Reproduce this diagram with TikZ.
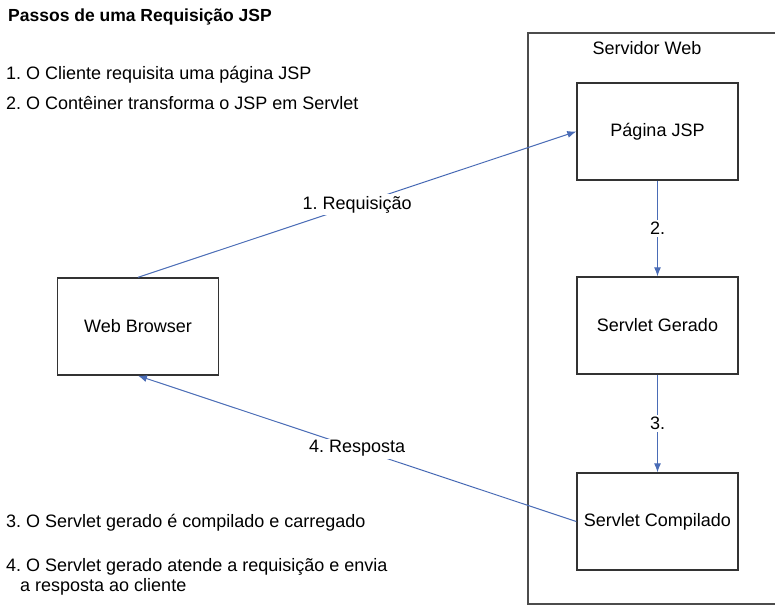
\documentclass[tikz,border=0pt]{standalone}
\usepackage{fontspec}
\setmainfont{Liberation Sans}
\usepackage{tikz}
\usetikzlibrary{positioning,arrows.meta}
\frenchspacing
\definecolor{arrowblue}{RGB}{74,108,182}
\tikzset{%
  every box/.style={
    rectangle,
    draw=black!80,
    line width=1.4pt,
    minimum width=161pt,
    minimum height=97pt
  },
  step text/.style={
    anchor=west,
    inner sep=0pt,
    align=left
  },
  arrow label/.style={
    fill=white,
    text=black,
    inner sep=2pt
  },
}

\begin{document}
\begin{tikzpicture}[> = {Latex[length=9pt,width=7pt]}, x=1pt, y=-1pt, font=\fontsize{18}{20}\selectfont]
\useasboundingbox (0,0) rectangle (775,605);
% servidor
\draw[black!70, line width=1.4pt] (775,33) -| (528,604) -- (775,604);
\node (server_label) at (647,48) {Servidor Web};
% caixas
\node[every box] (box_jsp) at (657.5,131.5) {Página JSP};
\node[every box] (box_gerado) at (657.5,325.5) {Servlet Gerado};
\node[every box] (box_compilado) at (657.5,521.5) {Servlet Compilado};
\node[every box] (box_browser) at (138,326.5) {Web Browser};
% textos
\node[step text, font=\fontsize{17.5}{20}\selectfont\bfseries] (title) at (8,17) {Passos de uma Requisição JSP};
\node[step text] (step_1) at (6,75) {1. O Cliente requisita uma página JSP};
\node[step text] (step_2) at (6,103) {2. O Contêiner transforma o JSP em Servlet};
\node[step text] (step_3) at (6,523) {3. O Servlet gerado é compilado e carregado};
\node[step text] (step_4) at (6,577) {4. O Servlet gerado atende a requisição e envia\\\hspace*{14pt}a resposta ao cliente};
% setas
\draw[arrowblue, line width=1pt, ->] (box_browser.north) -- node[arrow label] {1. Requisição} (box_jsp.west);
\draw[arrowblue, line width=1pt, ->] (box_jsp.south) -- node[arrow label] {2.} (box_gerado.north);
\draw[arrowblue, line width=1pt, ->] (box_gerado.south) -- node[arrow label] {3.} (box_compilado.north);
\draw[arrowblue, line width=1pt, ->] (box_compilado.west) -- node[arrow label] {4. Resposta} (box_browser.south);
\end{tikzpicture}
\end{document}
